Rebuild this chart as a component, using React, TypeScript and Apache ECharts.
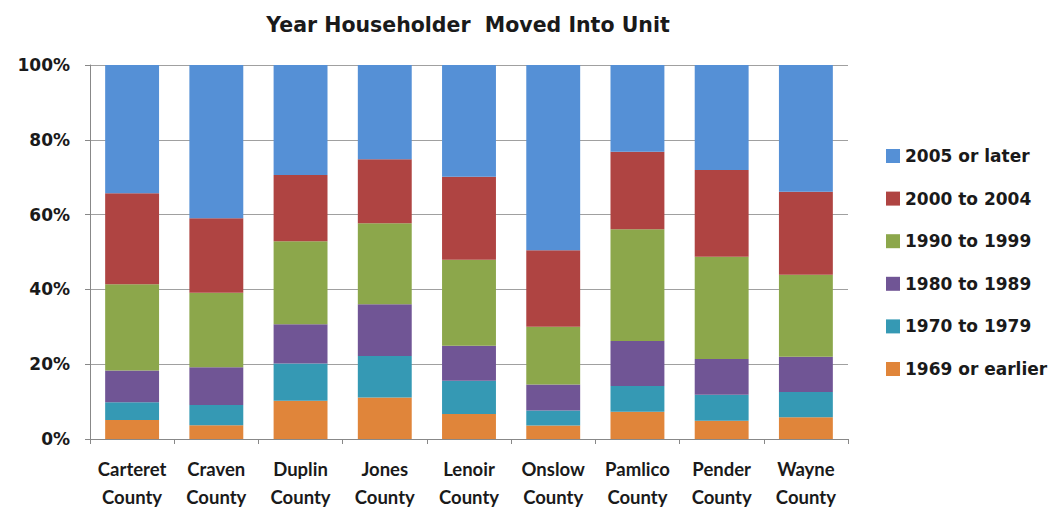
import React, { useEffect, useRef } from "react";
import * as echarts from "echarts";

const counties = [
  "Carteret\nCounty", "Craven\nCounty", "Duplin\nCounty", "Jones\nCounty", "Lenoir\nCounty",
  "Onslow\nCounty", "Pamlico\nCounty", "Pender\nCounty", "Wayne\nCounty",
];
const seriesNames = ["1969 or earlier", "1970 to 1979", "1980 to 1989", "1990 to 1999", "2000 to 2004", "2005 or later"];
const v1969 = [5.1, 3.7, 10.2, 11.1, 6.7, 3.6, 7.3, 4.9, 5.8];
const v1970 = [4.7, 5.4, 10.0, 11.1, 8.9, 4.0, 6.9, 6.9, 6.8];
const v1980 = [8.5, 10.1, 10.5, 13.8, 9.3, 7.0, 12.0, 9.6, 9.4];
const v1990 = [23.1, 19.9, 22.2, 21.7, 23.0, 15.4, 29.9, 27.3, 21.9];
const v2000 = [24.3, 19.9, 17.7, 17.1, 22.2, 20.5, 20.7, 23.2, 22.2];
const v2005 = [34.3, 41.0, 29.4, 25.2, 29.9, 49.5, 23.2, 28.1, 33.9];
const yTicks = [0, 20, 40, 60, 80, 100];
const colors = ["#E0853A", "#3599B4", "#705595", "#8CA74B", "#AF4442", "#5590D6"];

const WIDE = "DejaVu Sans";
const NARROW = "Lato";

export default function App() {
  const ref = useRef<HTMLDivElement>(null);
  useEffect(() => {
    if (!ref.current) return;
    const chart = echarts.init(ref.current, null, { renderer: "svg" });
    const values = [v1969, v1970, v1980, v1990, v2000, v2005];
    chart.setOption({
      animation: false,
      backgroundColor: "#ffffff",
      color: colors,
      title: {
        text: "Year Householder  Moved Into Unit",
        left: 463,
        top: 9,
        textAlign: "center",
        textStyle: { fontFamily: WIDE, fontWeight: "bold", fontSize: 20.5, color: "#1a1a1a" },
      },
      legend: {
        orient: "vertical",
        left: 886,
        top: 146,
        padding: 0,
        itemWidth: 14,
        itemHeight: 14,
        itemGap: 22.6,
        icon: "rect",
        data: [...seriesNames].reverse(),
        textStyle: { fontFamily: WIDE, fontWeight: "bold", fontSize: 17, color: "#1a1a1a", lineHeight: 20 },
      },
      grid: { left: 90, top: 65, right: 208, bottom: 74, containLabel: false },
      xAxis: {
        type: "category",
        data: counties,
        axisLine: { show: true, lineStyle: { color: "#888888", width: 1 } },
        axisTick: { show: true, length: 5, lineStyle: { color: "#888888" } },
        axisLabel: {
          interval: 0,
          margin: 16,
          fontFamily: NARROW,
          fontWeight: "bold",
          fontSize: 18.5,
          lineHeight: 28,
          color: "#1a1a1a",
        },
      },
      yAxis: {
        type: "value",
        min: 0,
        max: 100,
        interval: 20,
        axisLine: { show: true, lineStyle: { color: "#888888", width: 1 } },
        axisTick: { show: true, length: 5, lineStyle: { color: "#888888" } },
        splitLine: { show: true, lineStyle: { color: "#a0a0a0", width: 1 } },
        axisLabel: {
          margin: 20,
          fontFamily: WIDE,
          fontWeight: "bold",
          fontSize: 17,
          color: "#1a1a1a",
          formatter: (v: number) => (yTicks.includes(v) ? v + "%" : ""),
        },
      },
      series: seriesNames.map((name, i) => ({
        name,
        type: "bar",
        stack: "total",
        barWidth: "64%",
        data: values[i],
        itemStyle: { color: colors[i] },
      })),
    });
    return () => chart.dispose();
  }, []);
  return <div ref={ref} style={{ position: "fixed", left: 0, top: 0, width: 1056, height: 513 }} />;
}
